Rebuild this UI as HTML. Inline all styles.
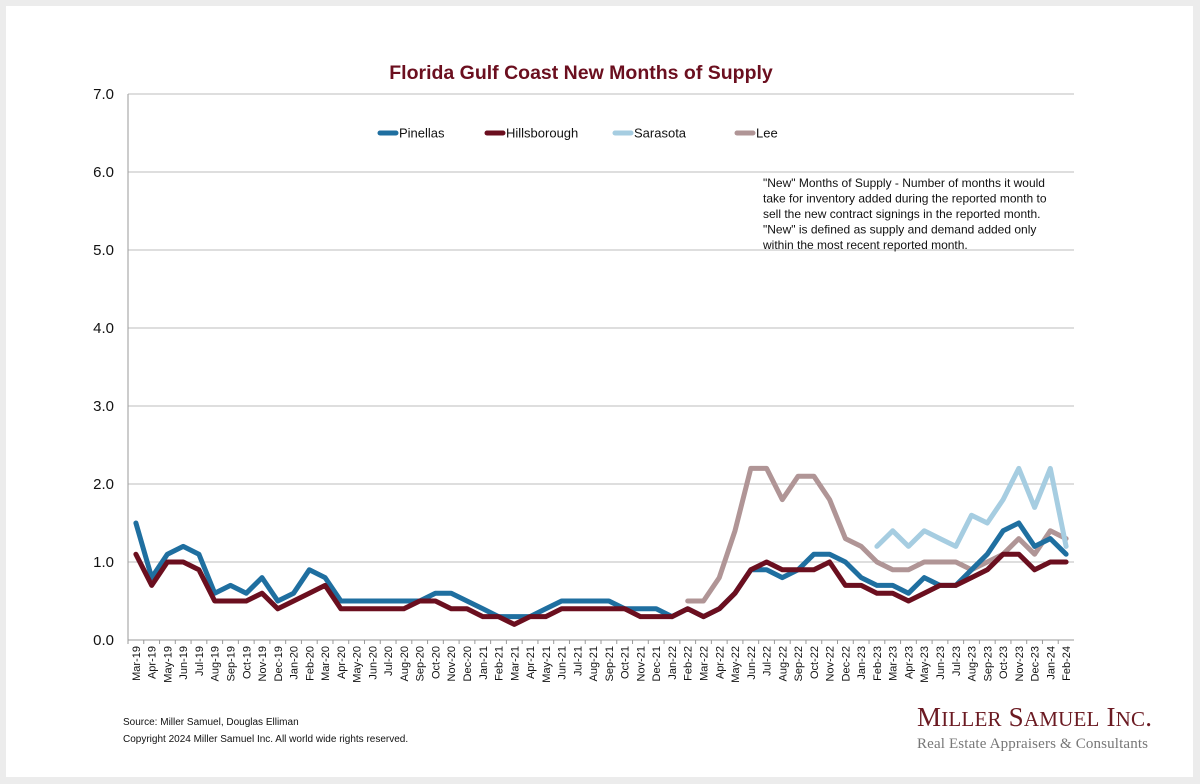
<!DOCTYPE html>
<html><head><meta charset="utf-8"><style>
body{margin:0;background:#ececec;width:1200px;height:784px;overflow:hidden;font-family:"Liberation Sans",sans-serif;}
#card{position:absolute;left:6px;top:6px;width:1187px;height:771px;background:#fff;}
svg{position:absolute;left:0;top:0;}
</style></head><body>
<div id="card"></div>
<svg id="chart" width="1200" height="784"></svg>
<script>
const months=["Mar-19","Apr-19","May-19","Jun-19","Jul-19","Aug-19","Sep-19","Oct-19","Nov-19","Dec-19","Jan-20","Feb-20","Mar-20","Apr-20","May-20","Jun-20","Jul-20","Aug-20","Sep-20","Oct-20","Nov-20","Dec-20","Jan-21","Feb-21","Mar-21","Apr-21","May-21","Jun-21","Jul-21","Aug-21","Sep-21","Oct-21","Nov-21","Dec-21","Jan-22","Feb-22","Mar-22","Apr-22","May-22","Jun-22","Jul-22","Aug-22","Sep-22","Oct-22","Nov-22","Dec-22","Jan-23","Feb-23","Mar-23","Apr-23","May-23","Jun-23","Jul-23","Aug-23","Sep-23","Oct-23","Nov-23","Dec-23","Jan-24","Feb-24"];
const pinellas=[1.5,0.8,1.1,1.2,1.1,0.6,0.7,0.6,0.8,0.5,0.6,0.9,0.8,0.5,0.5,0.5,0.5,0.5,0.5,0.6,0.6,0.5,0.4,0.3,0.3,0.3,0.4,0.5,0.5,0.5,0.5,0.4,0.4,0.4,0.3,0.4,0.3,0.4,0.6,0.9,0.9,0.8,0.9,1.1,1.1,1.0,0.8,0.7,0.7,0.6,0.8,0.7,0.7,0.9,1.1,1.4,1.5,1.2,1.3,1.1];
const hillsborough=[1.1,0.7,1.0,1.0,0.9,0.5,0.5,0.5,0.6,0.4,0.5,0.6,0.7,0.4,0.4,0.4,0.4,0.4,0.5,0.5,0.4,0.4,0.3,0.3,0.2,0.3,0.3,0.4,0.4,0.4,0.4,0.4,0.3,0.3,0.3,0.4,0.3,0.4,0.6,0.9,1.0,0.9,0.9,0.9,1.0,0.7,0.7,0.6,0.6,0.5,0.6,0.7,0.7,0.8,0.9,1.1,1.1,0.9,1.0,1.0];
const sarasotaStart=47;
const sarasota=[1.2,1.4,1.2,1.4,1.3,1.2,1.6,1.5,1.8,2.2,1.7,2.2,1.2];
const leeStart=35;
const lee=[0.5,0.5,0.8,1.4,2.2,2.2,1.8,2.1,2.1,1.8,1.3,1.2,1.0,0.9,0.9,1.0,1.0,1.0,0.9,1.0,1.1,1.3,1.1,1.4,1.3];
const yTicks=["0.0","1.0","2.0","3.0","4.0","5.0","6.0","7.0"];

const NS="http://www.w3.org/2000/svg";
const svg=document.getElementById('chart');
const X0=128,X1=1074,Y0=640,Y7=94;
const step=(X1-X0)/months.length;
const xs=i=>X0+step*(i+0.5);
const ys=v=>Y0-(Y0-Y7)*v/7;
function mk(t,a,p){const e=document.createElementNS(NS,t);for(const k in a)e.setAttribute(k,a[k]);(p||svg).appendChild(e);return e;}

yTicks.forEach((t,i)=>{
  const v=parseFloat(t);
  const g=mk('line',{x1:X0,x2:X1,y1:ys(v),y2:ys(v),stroke:i==0?'#999':'#bdbdbd','stroke-width':1});
  
  
  const l=mk('text',{x:114,y:ys(v)+5,'text-anchor':'end','font-size':15,fill:'#111'});
  l.textContent=t;
  
  
});
const ax=mk('line',{x1:X0,x2:X0,y1:Y7,y2:Y0,stroke:'#999'});


months.forEach((m,i)=>{
  const tk=mk('line',{x1:X0+step*i,x2:X0+step*i,y1:Y0,y2:Y0+4,stroke:'#999'});
  
  
  const x=xs(i)+4,y=Y0+6;
  const t=mk('text',{x:x,y:y,'text-anchor':'end','font-size':11,fill:'#111',transform:`rotate(-90 ${x} ${y})`});
  t.textContent=m;
  
  
});
function series(vals,start,color,name){
  const pts=vals.map((v,i)=>xs(i+start).toFixed(1)+','+ys(v).toFixed(1)).join(' ');
  const p=mk('polyline',{points:pts,fill:'none',stroke:color,'stroke-width':5,'stroke-linejoin':'round','stroke-linecap':'round'});
  
  
}
series(lee,leeStart,'#b09596','series-lee');
series(sarasota,sarasotaStart,'#a6cde1','series-sarasota');
series(pinellas,0,'#1f6fa0','series-pinellas');
series(hillsborough,0,'#6b0f1f','series-hillsborough');

const legend=[["Pinellas","#1f6fa0",378],["Hillsborough","#6b0f1f",485],["Sarasota","#a6cde1",613],["Lee","#b09596",735]];
legend.forEach(([n,c,x])=>{
  const l=mk('line',{x1:x+2,x2:x+18,y1:133,y2:133,stroke:c,'stroke-width':5,'stroke-linecap':'round'});
  
  
  const t=mk('text',{x:x+21,y:137.5,'font-size':13,fill:'#111'});
  t.textContent=n;
  
  
});
const title=mk('text',{x:581,y:79,'text-anchor':'middle','font-size':19.5,'font-weight':'bold',fill:'#6b0f1f'});
title.textContent="Florida Gulf Coast New Months of Supply";


const note=['"New" Months of Supply - Number of months it would','take for inventory added during the reported month to','sell the new contract signings in the reported month.','"New" is defined as supply and demand added only','within the most recent reported month.'];
note.forEach((s,i)=>{
  const t=mk('text',{x:763,y:187+i*15.5,'font-size':12,fill:'#111'});
  t.textContent=s;
  
  
});
const src=[["Source: Miller Samuel, Douglas Elliman",725],["Copyright 2024 Miller Samuel Inc.  All world wide rights reserved.",742]];
src.forEach(([s,y])=>{
  const t=mk('text',{x:123,y:y,'font-size':10,fill:'#111','xml:space':'preserve'});
  t.textContent=s;
  
  
});
const logo=mk('text',{x:917,y:726,'font-family':'Liberation Serif, serif','font-size':27,fill:'#6b1a22','textLength':235});
logo.innerHTML='M<tspan font-size="21">ILLER</tspan> S<tspan font-size="21">AMUEL</tspan> I<tspan font-size="21">NC</tspan>.';


const sub=mk('text',{x:917,y:748,'font-family':'Liberation Serif, serif','font-size':15,fill:'#777','textLength':231});
sub.textContent='Real Estate Appraisers & Consultants';


</script>
</body></html>
